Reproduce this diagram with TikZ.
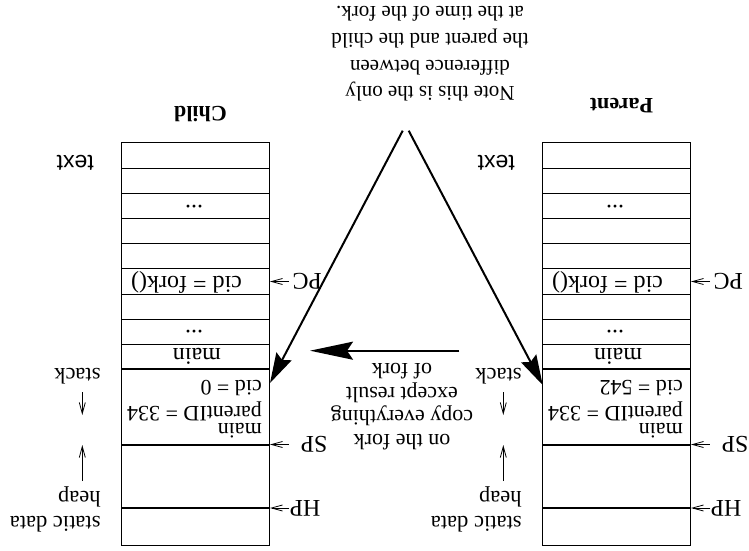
\documentclass[tikz,border=0pt]{standalone}
\usepackage{fontspec}
\setmainfont{Liberation Serif}
\newfontfamily\labelfont{Liberation Sans}
\usetikzlibrary{arrows.meta}

\tikzset{
  cell/.style={line width=1pt},
  seg/.style={line width=2.5pt},
  title/.style={anchor=base, inner sep=0pt, font=\fontsize{22}{26}\selectfont\bfseries},
  lbl/.style={anchor=base west, inner sep=0pt, font=\fontsize{22.5}{26}\selectfont},
  big/.style={anchor=base, inner sep=0pt, font=\fontsize{24}{28}\selectfont},
  frame/.style={anchor=base west, inner sep=0pt, font=\fontsize{22}{26}\selectfont},
  reg/.style={inner sep=0pt, font=\fontsize{24}{28}\selectfont},
  ptr/.style={line width=0.8pt, -{Straight Barb[length=11pt,width=6pt]}},
  fat/.style={line width=2pt, -{Stealth[length=30pt,width=17pt,inset=4pt]}},
  fatcopy/.style={line width=2.2pt, -{Stealth[length=43pt,width=18pt,inset=6pt]}},
  note/.style={anchor=north, inner sep=0pt, align=center}
}

\begin{document}
\begin{tikzpicture}[x=1pt,y=1pt]
\useasboundingbox (0,0) rectangle (749,550);
\begin{scope}[rotate around={180:(374.5,275)}, transform shape]

% the two address spaces
\foreach \n/\dx/\title/\ty/\cid in {par/0/Parent/98.3/542, chi/421/Child/106.7/0} {
\begin{scope}[xshift=\dx]
  \draw[cell] (59,143) rectangle (207,545);
  \foreach \y in {168,193,218.5,243.5,268.5,294,319,344}
    \draw[cell] (59,\y) -- (207,\y);
  \foreach \y in {369,445,508}
    \draw[seg] (59,\y) -- (207,\y);
  \node[title] (\n-title) at (127.5,\ty) {\title};
  \node[lbl, font=\fontsize{23}{26}\selectfont\labelfont] (\n-text) at (234,155) {text};
  \node[lbl] (\n-stack) at (227.3,368.3) {stack};
  \node[lbl] (\n-heap) at (227.3,491) {heap};
  \node[lbl] (\n-static) at (227.3,516.7) {static data};
  \node[big] (\n-dots1) at (134,205) {...};
  \node[big] (\n-fork) at (141.5,276.5) {cid = fork()};
  \node[big] (\n-dots2) at (134,330) {...};
  \node[big] (\n-main) at (131,348.3) {main};
  \node[frame] (\n-cidval) at (66,380) {cid = \cid};
  \node[frame] (\n-pid) at (66,406.7) {parentID = 334};
  \node[frame] (\n-frame) at (66,423.5) {main};
  % registers
  \node[reg] (\n-pc) at (20.7,281.5) {PC};
  \node[reg] (\n-sp) at (14,444.5) {SP};
  \node[reg] (\n-hp) at (23,508) {HP};
  \coordinate (\n-pcat) at (58,281.5);
  \coordinate (\n-spat) at (58,444.5);
  \coordinate (\n-hpat) at (58,508);
  \draw[ptr, shorten <=3.3pt] (\n-pc) -- (\n-pcat);
  \draw[ptr, shorten <=11.7pt] (\n-sp) -- (\n-spat);
  \draw[ptr] (\n-hp) -- (\n-hpat);
  % growth
  \coordinate (\n-heapto) at (245.7,445);
  \coordinate (\n-stackto) at (245.7,415);
  \draw[ptr, shorten <=5pt] (\n-heapto |- \n-heap.south) -- (\n-heapto);
  \draw[ptr, shorten <=8pt] (\n-stackto |- \n-stack.north) -- (\n-stackto);
\end{scope}
}

\node[note, font=\fontsize{21}{26.7}\selectfont] (note) at (319,101.5)
  {Note this is the only\\difference between\\the parent and the child\\at the time of the fork.};
\node[note, font=\fontsize{22}{23.5}\selectfont] (copytext) at (347,450)
  {on the fork\\copy everything\\except result\\of fork};

\coordinate (apex) at (343.3,130.7);
\coordinate (par-cid) at (206.3,385);
\coordinate (chi-cid) at (479,383);
\draw[fat] ([xshift=-3pt]apex) -- (par-cid);
\draw[fat] ([xshift=3pt]apex) -- (chi-cid);

\coordinate (copyfrom) at (289.7,350.7);
\coordinate (copyto) at (439,350.7);
\draw[fatcopy] (copyfrom) -- (copyto);

\end{scope}
\end{tikzpicture}
\end{document}
